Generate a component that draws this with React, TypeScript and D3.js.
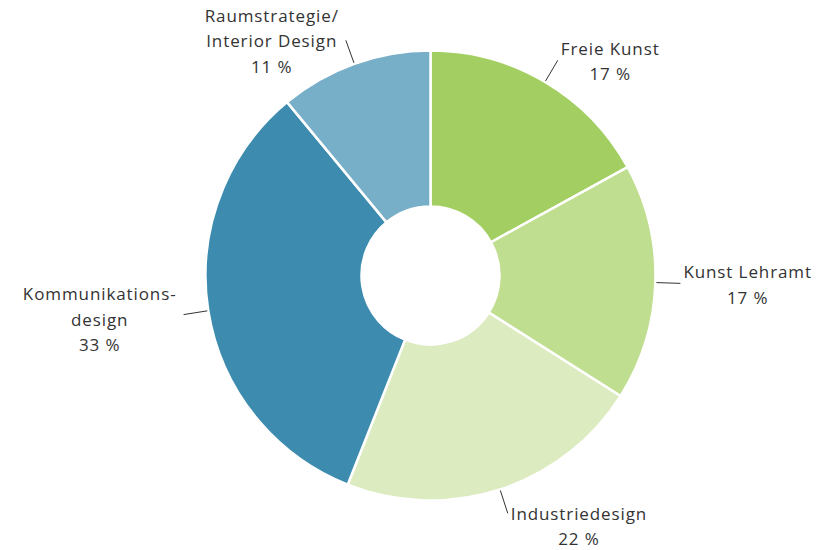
import React, { useRef, useEffect } from 'react';
import * as d3 from 'd3';

// Studienfächer – Anteile in Prozent
const categories = ['Freie Kunst', 'Kunst Lehramt', 'Industriedesign', 'Kommunikationsdesign', 'Raumstrategie/Interior Design'];
const labelLines = [['Freie Kunst'], ['Kunst Lehramt'], ['Industriedesign'], ['Kommunikations-', 'design'], ['Raumstrategie/', 'Interior Design']];
const values = [17, 17, 22, 33, 11];
const colors = ['#a3cf62', '#bfde90', '#dcebc0', '#3d8cb0', '#77aec8'];

export default function App() {
  const ref = useRef<SVGSVGElement>(null);

  useEffect(() => {
    const w = 826;
    const h = 550;
    const cx = 430.5;
    const cy = 275.5;
    const R = 225;
    const r = 69;
    const lh = 25.5;

    const svg = d3.select(ref.current);
    svg.selectAll('*').remove();

    const g = svg.append('g').attr('transform', `translate(${cx},${cy})`);

    const data = categories.map((c, i) => ({ name: c, value: values[i], lines: labelLines[i], color: colors[i] }));

    const pie = d3.pie<any>().sort(null).value((d) => d.value);
    const arcs = pie(data);
    const arcPath = d3.arc<any>().innerRadius(r).outerRadius(R);

    // Segmente
    g.selectAll('path.slice')
      .data(arcs)
      .enter()
      .append('path')
      .attr('class', 'slice')
      .attr('d', arcPath)
      .attr('fill', (d) => d.data.color)
      .attr('stroke', '#fff')
      .attr('stroke-width', 2.5)
      .attr('stroke-linejoin', 'round');

    // Beschriftungen mit Hinweislinien
    arcs.forEach((a) => {
      const mid = (a.startAngle + a.endAngle) / 2;
      const sin = Math.sin(mid);
      const cos = Math.cos(mid);
      const x1 = sin * (R + 1);
      const y1 = -cos * (R + 1);
      const x2 = sin * (R + 25);
      const y2 = -cos * (R + 25);

      g.append('line')
        .attr('x1', x1)
        .attr('y1', y1)
        .attr('x2', x2)
        .attr('y2', y2)
        .attr('stroke', '#333')
        .attr('stroke-width', 1);

      const lines = [...a.data.lines, `${a.data.value} %`];
      const n = lines.length;

      const txt = g.append('text')
        .attr('font-family', '"Open Sans", sans-serif')
        .attr('font-size', 17)
        .attr('letter-spacing', 0.9)
        .attr('fill', '#333')
        .attr('text-anchor', 'middle')
        .attr('dominant-baseline', 'central');

      const spans = lines.map((l) => txt.append('tspan').text(l));
      const widths = spans.map((s) => (s.node() as SVGTextContentElement).getComputedTextLength());
      const bw = Math.max(...widths);

      const left = sin >= 0 ? x2 + 3 : x2 - 7 - bw;
      const centerX = left + bw / 2;
      const shift = Math.max(0, -cos) * (n - 1) * lh / 2;
      const top = y2 - (n - 1) * lh / 2 + shift;

      spans.forEach((s, i) => {
        s.attr('x', centerX).attr('y', top + i * lh);
      });
    });

    svg.attr('width', w).attr('height', h);
  }, []);

  return (
    <div style={{ position: 'absolute', left: 0, top: 0 }}>
      <svg ref={ref} width={826} height={550} style={{ display: 'block', background: '#fff' }} />
    </div>
  );
}
